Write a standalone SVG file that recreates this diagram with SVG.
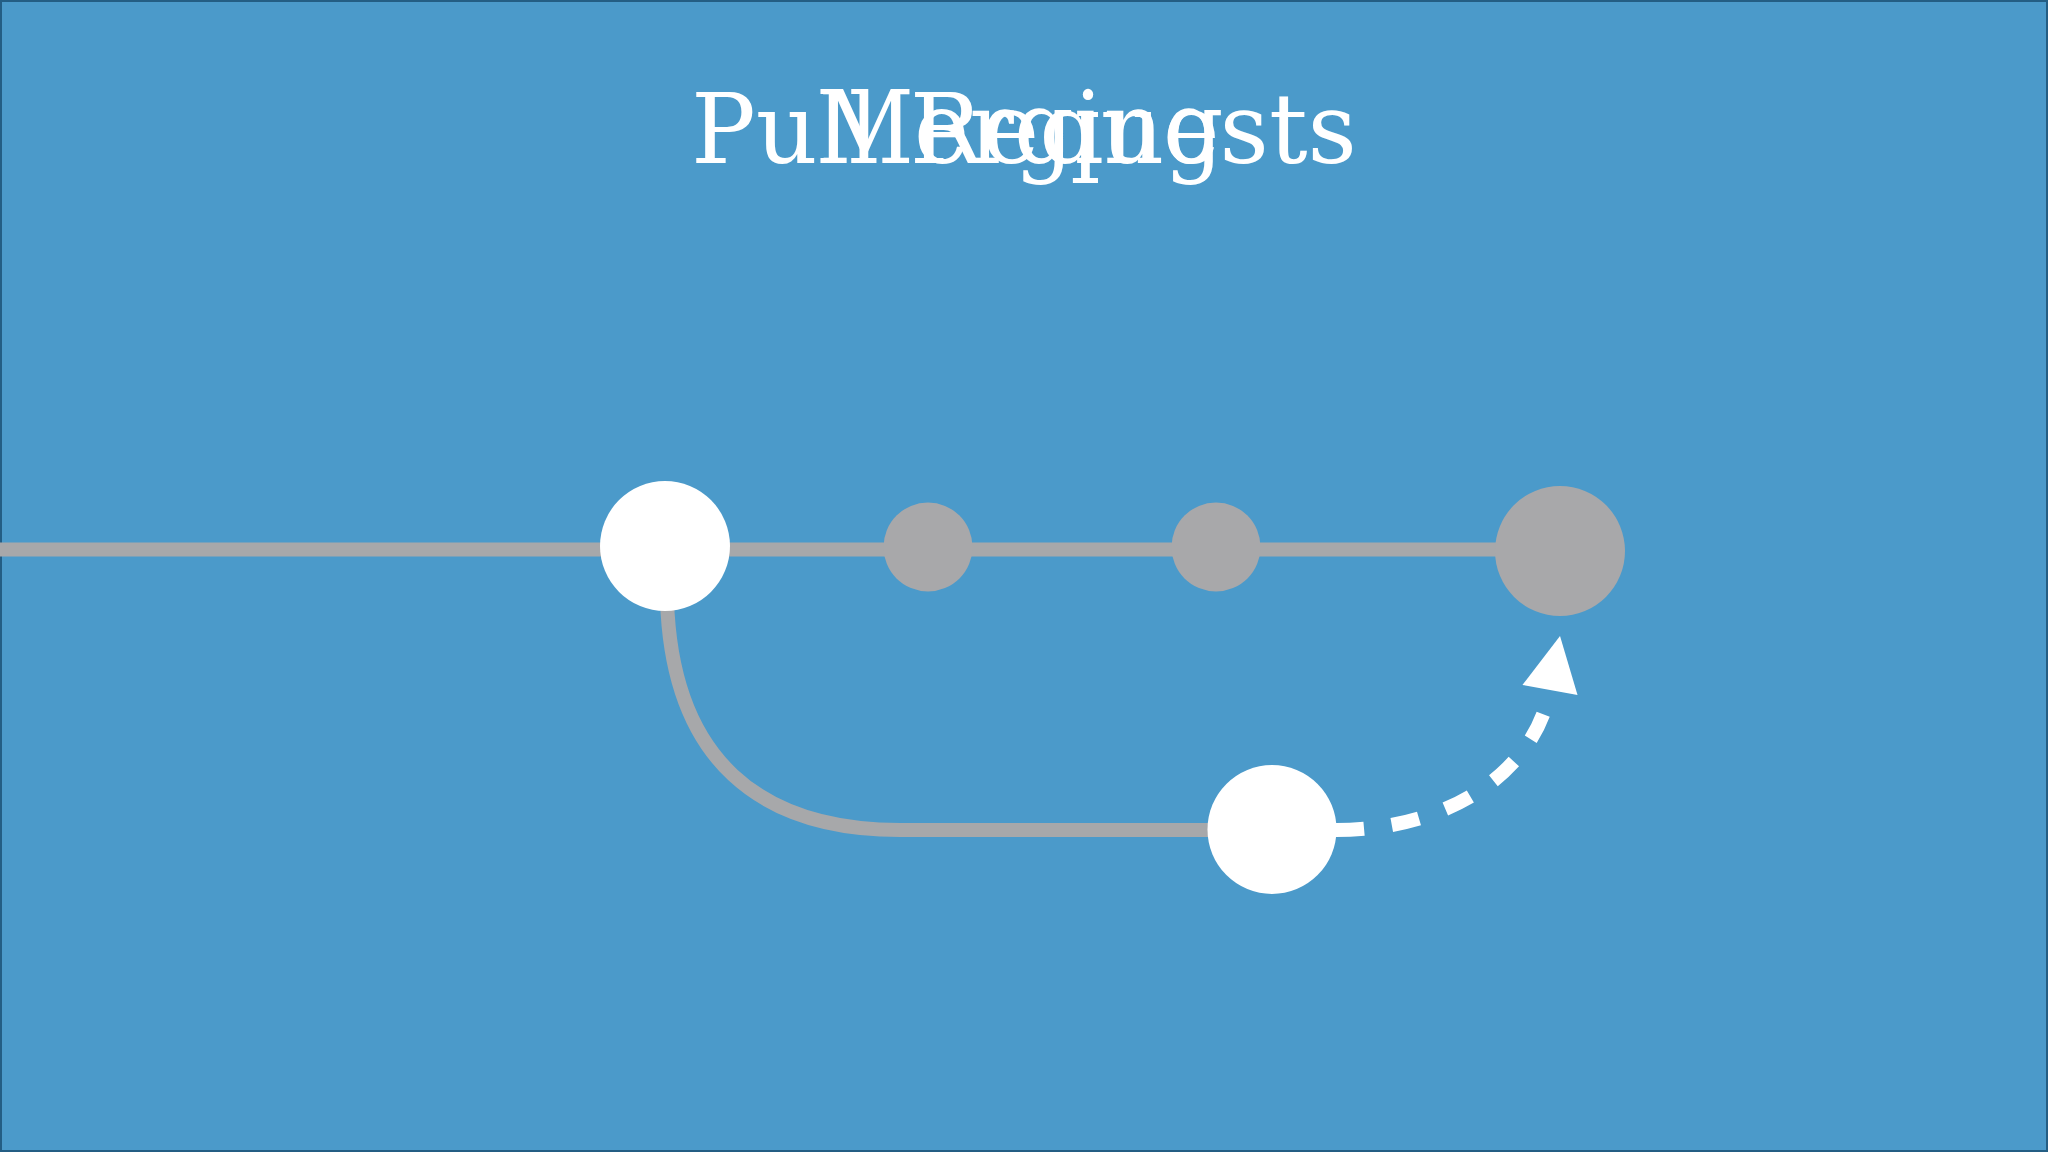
<svg xmlns="http://www.w3.org/2000/svg" width="2048" height="1152" viewBox="0 0 2048 1152">
  <style>
    .title { font-family: "DejaVu Serif", "Liberation Serif", serif; fill: #ffffff; }
    .branch { fill: none; stroke: #a7a8aa; stroke-width: 14; }
    .merge { fill: none; stroke: #ffffff; stroke-width: 14; stroke-dasharray: 28 28; }
    .white { fill: #ffffff; }
    .gray { fill: #a8a8aa; }
  </style>
  <defs>
    <marker id="arrow" markerUnits="userSpaceOnUse" viewBox="0 -30 60 60" markerWidth="60" markerHeight="60" refX="0" refY="0" orient="auto" overflow="visible">
      <path d="M0,-28 L55,0 L0,28 Z" fill="#ffffff"/>
    </marker>
  </defs>
  <rect x="0" y="0" width="2048" height="1152" fill="#4b9aca"/>
  <rect x="1" y="1" width="2046" height="1150" fill="none" stroke="#245e84" stroke-width="2"/>

  <g id="title">
    <text class="title" x="1024" y="163" font-size="97" text-anchor="middle" textLength="666" lengthAdjust="spacingAndGlyphs">Pull Requests</text>
    <text class="title" x="1021" y="163" font-size="101" text-anchor="middle" textLength="405" lengthAdjust="spacingAndGlyphs">Merging</text>
  </g>

  <g id="connectors">
    <line class="branch" x1="0" y1="549.5" x2="1560" y2="549.5"/>
    <path class="branch" d="M667,600 C672,760 760,830 900,830 L1272,830"/>
    <path class="merge" d="M1336,830 C1450,830 1535,771 1550,690" marker-end="url(#arrow)"/>
  </g>

  <g id="node-base"><circle class="white" cx="665" cy="546" r="65"/></g>
  <g id="node-main-1"><circle class="gray" cx="928" cy="547" r="44.5"/></g>
  <g id="node-main-2"><circle class="gray" cx="1216" cy="547" r="44.5"/></g>
  <g id="node-main-merge"><circle class="gray" cx="1560" cy="551" r="65"/></g>
  <g id="node-feature"><circle class="white" cx="1272" cy="829.5" r="64.5"/></g>
</svg>
